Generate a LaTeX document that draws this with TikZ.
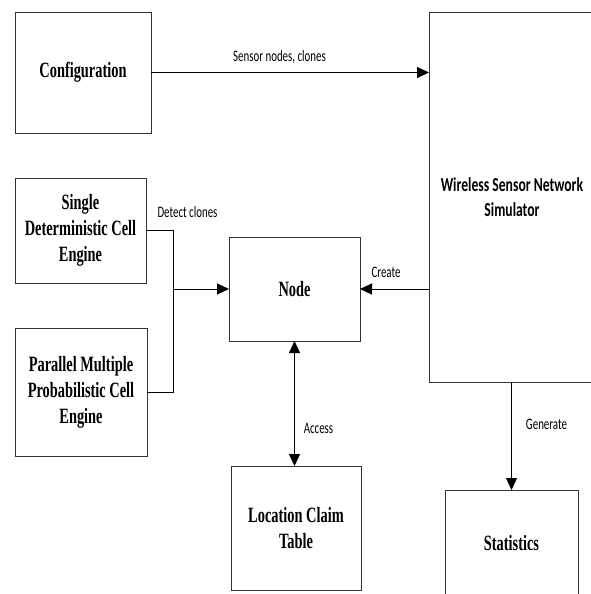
\documentclass[tikz,border=0pt]{standalone}
\usepackage{fontspec}
\usetikzlibrary{arrows.meta}
\newfontfamily\boxfont{Liberation Serif}[FakeStretch=0.66]
\newfontfamily\lblfont{Carlito}[FakeStretch=0.68]
\newfontfamily\wsnfont{Carlito}[FakeStretch=0.69]
\tikzset{
  blk/.style={draw=black!80, line width=0.9pt, inner sep=0pt, outer sep=0pt, align=center,
    font=\boxfont\bfseries\fontsize{21.8}{26}\selectfont},
  wsntxt/.style={inner sep=0pt, align=center, font=\wsnfont\bfseries\fontsize{19.8}{25}\selectfont},
  conn/.style={draw=black, line width=1pt},
  arr/.style={conn, -{Triangle[length=12pt,width=11pt]}},
  darr/.style={conn, {Triangle[length=12pt,width=11pt]}-{Triangle[length=12pt,width=11pt]}},
  lbl/.style={inner sep=0pt, font=\lblfont\fontsize{16}{18}\selectfont}
}
\begin{document}
\begin{tikzpicture}[x=1pt,y=-1pt]
\useasboundingbox (0,0) rectangle (591,594);
\clip (0,0) rectangle (591,594);
\fill[white] (0,0) rectangle (591,594);
% boxes
\node[blk, minimum width=136pt, minimum height=121pt] (config) at (83,72.5) {Configuration};
\node[blk, minimum width=131pt, minimum height=105pt] (single) at (80.5,230.5) {Single\\Deterministic Cell\\Engine};
\node[blk, minimum width=132pt, minimum height=128pt] (parallel) at (81,392) {Parallel Multiple\\Probabilistic Cell\\Engine};
\node[blk, minimum width=131pt, minimum height=104pt] (node) at (294.5,289) {Node};
\node[blk, minimum width=130pt, minimum height=124pt] (lct) at (296,528) {Location Claim\\Table};
\node[blk, minimum width=180pt, minimum height=370pt] (wsn) at (519,197) {};
\node[wsntxt] (wsntext) at (512,197) {Wireless Sensor Network\\Simulator};
\node[blk, minimum width=133pt, minimum height=106pt] (stats) at (511.5,543) {Statistics};
% connectors
\draw[arr] (config.east) -- (config.east -| wsn.west);
\coordinate (jx) at (173,289);
\draw[conn] (single.east) -| (jx |- parallel.east) -- (parallel.east);
\draw[arr] (jx) -- (node.west);
\draw[arr] (wsn.west |- node.east) -- (node.east);
\draw[darr] (node.south) -- (node.south |- lct.north);
\draw[arr] (wsn.south -| stats.north) -- (stats.north);
% labels
\node[lbl] (l1) at (279.5,57) {Sensor nodes, clones};
\node[lbl] (l2) at (187.5,212) {Detect clones};
\node[lbl] (l3) at (386,272) {Create};
\node[lbl] (l4) at (318.5,428) {Access};
\node[lbl] (l5) at (546.5,424) {Generate};
\end{tikzpicture}
\end{document}
